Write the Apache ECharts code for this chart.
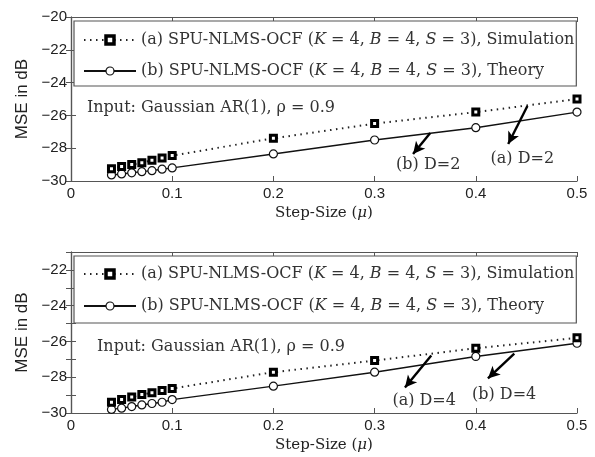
<!DOCTYPE html>
<html><head><meta charset="utf-8">
<script src="https://cdn.jsdelivr.net/npm/echarts@6/dist/echarts.min.js"></script>
<style>html,body{margin:0;padding:0;background:#fff}#c{width:595px;height:457px}</style>
</head><body><div id="c"></div>
<script>
const stepSizes = [0.04, 0.05, 0.06, 0.07, 0.08, 0.09, 0.1, 0.2, 0.3, 0.4, 0.5];
const simD2 = [-29.25, -29.12, -29.0, -28.88, -28.74, -28.6, -28.45, -27.4, -26.5, -25.8, -25.0];
const theoryD2 = [-29.63, -29.57, -29.5, -29.43, -29.37, -29.28, -29.2, -28.35, -27.5, -26.75, -25.8];
const simD4 = [-29.4, -29.25, -29.1, -28.97, -28.87, -28.74, -28.63, -27.72, -27.07, -26.38, -25.8];
const theoryD4 = [-29.8, -29.73, -29.64, -29.55, -29.47, -29.4, -29.25, -28.5, -27.72, -26.84, -26.1];
const xTicks = [0, 0.1, 0.2, 0.3, 0.4, 0.5];
const yTicksTop = [-30, -28, -26, -24, -22, -20];
const yTicksBottom = [-30, -28, -26, -24, -22];
const legendSim = '(a) SPU-NLMS-OCF (K = 4, B = 4, S = 3), Simulation';
const legendTheory = '(b) SPU-NLMS-OCF (K = 4, B = 4, S = 3), Theory';
const inputNote = 'Input: Gaussian AR(1), ρ = 0.9';
const xName = 'Step-Size ({i|μ})';
const yName = 'MSE in dB';
// annotations: [startX, startY, endX, endY]
const arrowsTop = [[0.355, -27.07, 0.338, -28.35], [0.451, -25.43, 0.432, -27.74]];
const labelsTop = [['(b) D=2', 0.353, -29.02], ['(a) D=2', 0.446, -28.62]];
const arrowsBottom = [[0.356, -26.79, 0.330, -28.58], [0.438, -26.68, 0.412, -28.07]];
const labelsBottom = [['(a) D=4', 0.349, -29.3], ['(b) D=4', 0.428, -28.97]];
const notePos = [[0.0158, -25.55], [0.0257, -26.28]];

const serif = 'DejaVu Serif';
const sans = 'Liberation Sans';
const chart = echarts.init(document.getElementById('c'));

function pairs(xs, ys){ return xs.map((x,i)=>[x, ys[i]]); }
function legendFmt(name){ return name.replace(/\b([KBS]) =/g, '{i|$1} ='); }

const grids = [
  {left:71, top:17, width:506, height:164},
  {left:71, top:252, width:506, height:161}
];
const axisColor = '#555';

function xAxes(gi){
  return [
    {gridIndex:gi, type:'value', min:0, max:0.5, interval:0.1, position:'bottom',
     name:xName, nameLocation:'middle', nameGap:25,
     nameTextStyle:{fontFamily:serif, fontSize:15, color:'#222',
       rich:{i:{fontFamily:serif, fontStyle:'italic', fontSize:15, color:'#222'}}},
     axisLine:{lineStyle:{color:axisColor, width:1.2}}, axisTick:{inside:true, length:5, lineStyle:{color:axisColor}},
     axisLabel:{fontFamily:sans, fontSize:15, color:'#222', margin:5,
       formatter:v=>xTicks.includes(+v.toFixed(2)) ? String(+v.toFixed(2)) : ''},
     splitLine:{show:false}},
    {gridIndex:gi, type:'value', min:0, max:0.5, interval:0.1, position:'top',
     axisLine:{lineStyle:{color:axisColor, width:1.2}}, axisTick:{inside:true, length:5, lineStyle:{color:axisColor}},
     axisLabel:{show:false}, splitLine:{show:false}}
  ];
}
function yAxes(gi, min, max, ticks){
  return [
    {gridIndex:gi, type:'value', min:min, max:max, interval:(gi ? 1 : 2), position:'left',
     name:yName, nameLocation:'middle', nameGap:40, nameRotate:90,
     nameTextStyle:{fontFamily:sans, fontSize:17, color:'#222'},
     axisLine:{show:true, lineStyle:{color:axisColor, width:1.2}},
     axisTick:{show:true, inside:true, length:5, lineStyle:{color:axisColor},
       interval:(i,v)=>ticks.includes(Math.round(+v))},
     axisLabel:{fontFamily:sans, fontSize:15, color:'#222', margin:4,
       formatter:v=>ticks.includes(Math.round(v)) && Math.abs(v-Math.round(v))<1e-6 ? String(Math.round(v)).replace('-', '\u2212') : ''},
     splitLine:{show:false}},
    {gridIndex:gi, type:'value', min:min, max:max, interval:(gi ? 1 : 2), position:'right',
     axisLine:{show:true, lineStyle:{color:axisColor, width:1.2}},
     axisTick:{show:true, inside:true, length:5, lineStyle:{color:axisColor}},
     axisLabel:{show:false}, splitLine:{show:false}}
  ];
}

function seriesFor(gi, sim, th, arrows, labels, note){
  const xi = gi*2, yi = gi*2;
  return [
    {name: legendSim + (gi ? ' ' : ''), type:'line', xAxisIndex:xi, yAxisIndex:yi,
     data:pairs(stepSizes, sim), symbol:'rect', symbolSize:6,
     itemStyle:{color:'#fff', borderColor:'#000', borderWidth:3},
     lineStyle:{color:'#222', width:2, type:[1.5,4.5]}, z:3,
     markPoint:{symbol:'circle', symbolSize:0, silent:true,
       data: labels.map(l=>({coord:[l[1], l[2]], label:{show:true, position:'inside', formatter:l[0],
         fontFamily:serif, fontSize:16, color:'#333'}}))
         .concat([{coord:note, label:{show:true, position:'right', distance:0, formatter:inputNote,
           fontFamily:serif, fontSize:16, color:'#333'}}])},
     markLine:{silent:true, symbol:['none','arrow'], symbolSize:[9,12],
       lineStyle:{color:'#000', width:2.4, type:'solid'}, label:{show:false},
       data: arrows.map(a=>[{coord:[a[0],a[1]]},{coord:[a[2],a[3]]}])}
    },
    {name: legendTheory + (gi ? ' ' : ''), type:'line', xAxisIndex:xi, yAxisIndex:yi,
     data:pairs(stepSizes, th), symbol:'circle', symbolSize:8,
     itemStyle:{color:'#fff', borderColor:'#111', borderWidth:1.2},
     lineStyle:{color:'#111', width:1.4, type:'solid'}, z:2}
  ];
}

function legendFor(gi, top, gap, pad){
  const sfx = gi ? ' ' : '';
  return {
    orient:'vertical', left:74, top:top,
    data: [{name:legendSim+sfx, itemStyle:{borderWidth:3.5}}, {name:legendTheory+sfx, itemStyle:{borderWidth:1.2}}],
    itemWidth:52, itemHeight:10, itemGap:gap,
    padding:pad,
    borderColor:'#555', borderWidth:1.2, backgroundColor:'#fff',
    formatter: n => legendFmt(n.trim()),
    textStyle:{fontFamily:serif, fontSize:16, color:'#333',
      rich:{i:{fontFamily:serif, fontStyle:'italic', fontSize:16, color:'#333'}}},
    selectedMode:false
  };
}

chart.setOption({
  animation:false,
  backgroundColor:'#fff',
  grid:grids,
  xAxis: xAxes(0).concat(xAxes(1)),
  yAxis: yAxes(0, -30, -20, yTicksTop).concat(yAxes(1, -30, -21, yTicksBottom)),
  legend:[legendFor(0, 21, 15, [11, 2, 7, 9]), legendFor(1, 256, 16, [10, 2, 9, 9])],
  series: seriesFor(0, simD2, theoryD2, arrowsTop, labelsTop, notePos[0])
    .concat(seriesFor(1, simD4, theoryD4, arrowsBottom, labelsBottom, notePos[1]))
});
</script></body></html>
